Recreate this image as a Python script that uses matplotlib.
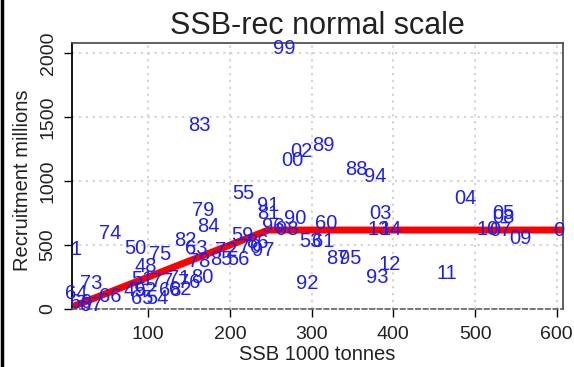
# Stock-recruitment scatter with year labels and a hockey-stick fit
import matplotlib.pyplot as plt
from matplotlib.lines import Line2D

plt.rcParams['font.family'] = ['Liberation Sans', 'DejaVu Sans']

# Year labels (last two digits), SSB (1000 t) and recruitment (millions)
years = ['99', '83', '02', '00', '89', '88', '94', '55', '91', '81',
         '79', '84', '90', '96', '98', '60', '53', '61', '92', '87',
         '95', '03', '13', '14', '12', '93', '11', '04', '05', '08',
         '10', '07', '09', '0', '74', '1', '50', '75', '82', '63',
         '48', '73', '66', '51', '49', '52', '65', '54', '77', '71',
         '68', '62', '76', '80', '78', '85', '56', '59', '86', '97',
         '70', '72', '64', '69', '67']
ssb = [266, 163, 288, 277, 314, 355, 378, 216, 247, 247,
       167, 174, 280, 253, 270, 318, 299, 314, 294, 331,
       347, 384, 382, 397, 396, 380, 465, 488, 535, 535,
       515, 531, 555, 602, 53, 12, 84, 114, 145, 159,
       97, 30, 54, 93, 83, 97, 93, 111, 117, 138,
       127, 139, 150, 166, 162, 190, 210, 215, 233, 241,
       225, 195, 12, 18, 30]
rec = [2039, 1437, 1229, 1164, 1281, 1086, 1034, 904, 812, 750,
       773, 643, 709, 648, 625, 670, 527, 527, 201, 396,
       396, 748, 623, 623, 344, 248, 279, 865, 748, 716,
       625, 612, 552, 612, 591, 466, 474, 422, 539, 474,
       332, 201, 96, 227, 148, 148, 84, 84, 213, 242,
       148, 156, 211, 250, 375, 383, 383, 578, 523, 461,
       484, 461, 125, 47, 31]

# Segmented regression: linear rise to the breakpoint, then flat
fit_ssb = [8, 247, 610]
fit_rec = [20, 617, 617]

fig = plt.figure(figsize=(5.74, 3.67), dpi=100)
ax = fig.add_axes([0.1254, 0.158, 0.8556, 0.7248])

ax.plot(fit_ssb, fit_rec, color='red', lw=5, solid_capstyle='butt', zorder=2)
for yr, x, y in zip(years, ssb, rec):
    ax.text(x, y, yr, color='#1f1fe6', fontsize=14.5, ha='center', va='center',
            zorder=3)

ax.set_xlim(6.7, 607.7)
ax.set_ylim(0, 2078)
ax.set_xticks([100, 200, 300, 400, 500, 600])
ax.set_yticks([0, 500, 1000, 1500, 2000])
ax.grid(True, color='#c8c8c8', linestyle=(0, (1.5, 3)), lw=1.1)
ax.set_axisbelow(True)

ax.tick_params(direction='out', length=6, width=1, labelsize=14, color='black',
               labelcolor='#222222')
ax.tick_params(axis='x', pad=6)
ax.tick_params(axis='y', pad=5)
for lab in ax.get_yticklabels():
    lab.set_rotation(90)
    lab.set_va('center')

ax.spines['left'].set_color('black')
ax.spines['left'].set_linewidth(1.3)
for side in ['top', 'right']:
    ax.spines[side].set_color('#444444')
    ax.spines[side].set_linewidth(1.2)
ax.spines['bottom'].set_color('#555555')
ax.spines['bottom'].set_linestyle((0, (3, 2)))
ax.spines['bottom'].set_linewidth(1.1)

fig.text(0.553, 0.93, 'SSB-rec normal scale', fontsize=22, ha='center', va='center',
         color='#222222')
fig.text(0.553, 0.033, 'SSB 1000 tonnes', fontsize=14.5, ha='center', va='center',
         color='#222222')
fig.text(0.04, 0.51, 'Recruitment millions', fontsize=14.5, rotation=90,
         ha='center', va='center', color='#222222')

# thin black rule down the left edge
fig.add_artist(Line2D([0.003, 0.003], [0, 1], color='black', lw=2.5,
                      transform=fig.transFigure))

fig.savefig('out.png', dpi=100)
